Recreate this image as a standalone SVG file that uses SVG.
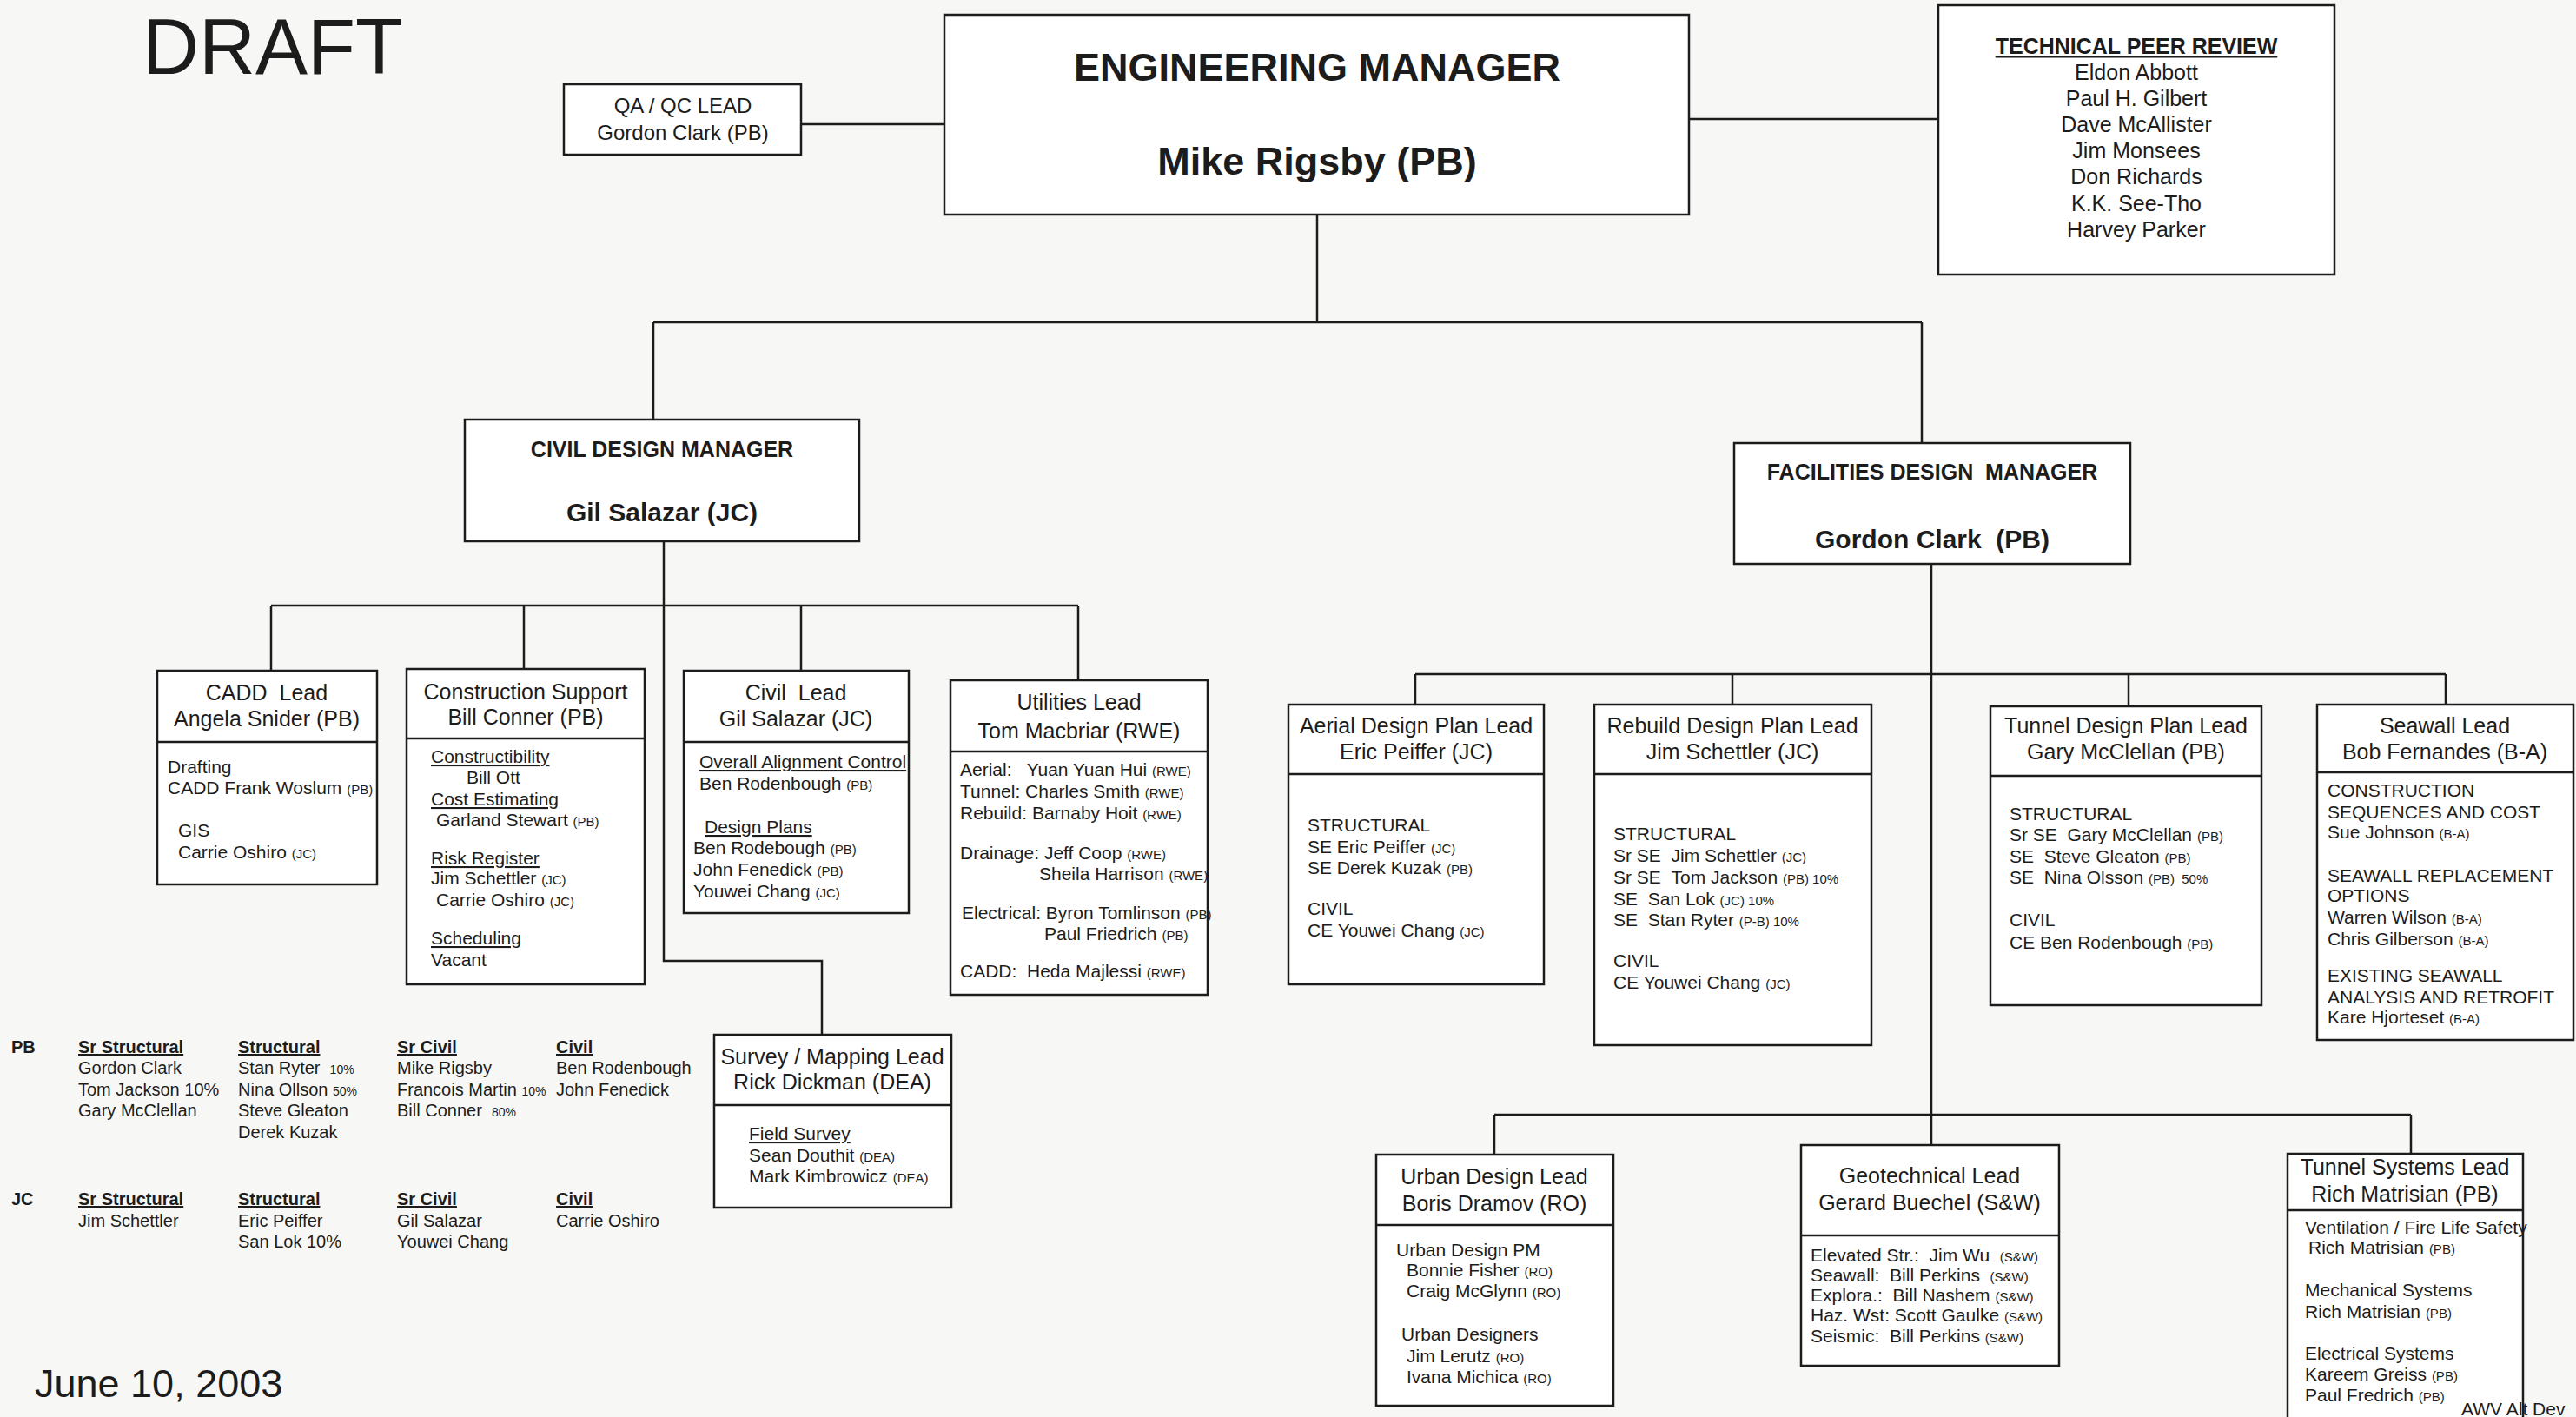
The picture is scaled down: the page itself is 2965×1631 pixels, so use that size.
<svg xmlns="http://www.w3.org/2000/svg" width="2965" height="1631" viewBox="0 0 2965 1631">
<style>
text{font-family:"Liberation Sans",Arial,Helvetica,sans-serif;fill:#1c1c1c}
.box{fill:#ffffff;stroke:#1c1c1c;stroke-width:2.5}
.div{stroke:#1c1c1c;stroke-width:2.5}
.ln{stroke:#1c1c1c;stroke-width:2.5;fill:none}
.t{font-size:25px;text-anchor:middle}
.b{font-size:21px}
.s{font-size:15px}
.u{text-decoration:underline}
.hb{font-weight:bold}
.lg{font-size:20px}
.ls{font-size:14px}
</style>
<rect x="0" y="0" width="2965" height="1631" fill="#f7f7f5"/>
<text x="164" y="85" style="font-size:90px">DRAFT</text>

<g id="connectors">
<path class="ln" d="M922 143H1087"/>
<path class="ln" d="M1944 137H2231"/>
<path class="ln" d="M1516 247V371M752 371H2212M752 371V483M2212 371V510"/>
<path class="ln" d="M764 623V1106H946V1191"/>
<path class="ln" d="M312 697H1241M312 697V772M603 697V770M922 697V772M1241 697V783"/>
<path class="ln" d="M2223 649V1318"/>
<path class="ln" d="M1629 776H2815M1629 776V811M1994 776V811M2450 776V813M2815 776V811"/>
<path class="ln" d="M1720 1283H2775M1720 1283V1329M2775 1283V1328"/>
</g>

<g id="qa-qc-lead">
<rect class="box" x="649" y="97" width="273" height="81"/>
<text class="t" x="786" y="130" style="font-size:24px">QA / QC LEAD</text>
<text class="t" x="786" y="161" style="font-size:24px">Gordon Clark (PB)</text>
</g>

<g id="engineering-manager">
<rect class="box" x="1087" y="17" width="857" height="230"/>
<text class="t hb" x="1516" y="93" style="font-size:45px">ENGINEERING MANAGER</text>
<text class="t hb" x="1516" y="201" style="font-size:45px">Mike Rigsby (PB)</text>
</g>

<g id="technical-peer-review">
<rect class="box" x="2231" y="6" width="456" height="310"/>
<text class="t hb u" x="2459" y="62">TECHNICAL PEER REVIEW</text>
<text class="t" x="2459" y="92">Eldon Abbott</text>
<text class="t" x="2459" y="122">Paul H. Gilbert</text>
<text class="t" x="2459" y="152">Dave McAllister</text>
<text class="t" x="2459" y="182">Jim Monsees</text>
<text class="t" x="2459" y="212">Don Richards</text>
<text class="t" x="2459" y="243">K.K. See-Tho</text>
<text class="t" x="2459" y="273">Harvey Parker</text>
</g>

<g id="civil-design-manager">
<rect class="box" x="535" y="483" width="454" height="140"/>
<text class="t hb" x="762" y="526">CIVIL DESIGN MANAGER</text>
<text class="t hb" x="762" y="600" style="font-size:30px">Gil Salazar (JC)</text>
</g>

<g id="facilities-design-manager">
<rect class="box" x="1996" y="510" width="456" height="139"/>
<text class="t hb" x="2224" y="552">FACILITIES DESIGN &#160;MANAGER</text>
<text class="t hb" x="2224" y="631" style="font-size:30px">Gordon Clark &#160;(PB)</text>
</g>

<g id="cadd-lead">
<rect class="box" x="181" y="772" width="253" height="246"/>
<line class="div" x1="181" y1="854" x2="434" y2="854"/>
<text class="t" x="307" y="806">CADD &#160;Lead</text>
<text class="t" x="307" y="836">Angela Snider (PB)</text>
<text class="b" x="193" y="890">Drafting</text>
<text class="b" x="193" y="914">CADD Frank Woslum <tspan class="s">(PB)</tspan></text>
<text class="b" x="205" y="963">GIS</text>
<text class="b" x="205" y="988">Carrie Oshiro <tspan class="s">(JC)</tspan></text>
</g>

<g id="construction-support">
<rect class="box" x="468" y="770" width="274" height="363"/>
<line class="div" x1="468" y1="850" x2="742" y2="850"/>
<text class="t" x="605" y="805">Construction Support</text>
<text class="t" x="605" y="834">Bill Conner (PB)</text>
<text class="b u" x="496" y="878">Constructibility</text>
<text class="b" x="537" y="902">Bill Ott</text>
<text class="b u" x="496" y="927">Cost Estimating</text>
<text class="b" x="502" y="951">Garland Stewart <tspan class="s">(PB)</tspan></text>
<text class="b u" x="496" y="995">Risk Register</text>
<text class="b" x="496" y="1018">Jim Schettler <tspan class="s">(JC)</tspan></text>
<text class="b" x="502" y="1043">Carrie Oshiro <tspan class="s">(JC)</tspan></text>
<text class="b u" x="496" y="1087">Scheduling</text>
<text class="b" x="496" y="1112">Vacant</text>
</g>

<g id="civil-lead">
<rect class="box" x="787" y="772" width="259" height="279"/>
<line class="div" x1="787" y1="854" x2="1046" y2="854"/>
<text class="t" x="916" y="806">Civil &#160;Lead</text>
<text class="t" x="916" y="836">Gil Salazar (JC)</text>
<text class="b u" x="805" y="884">Overall Alignment Control</text>
<text class="b" x="805" y="909">Ben Rodenbough <tspan class="s">(PB)</tspan></text>
<text class="b u" x="811" y="959">Design Plans</text>
<text class="b" x="798" y="983">Ben Rodebough <tspan class="s">(PB)</tspan></text>
<text class="b" x="798" y="1008">John Fenedick <tspan class="s">(PB)</tspan></text>
<text class="b" x="798" y="1033">Youwei Chang <tspan class="s">(JC)</tspan></text>
</g>

<g id="utilities-lead">
<rect class="box" x="1094" y="783" width="296" height="362"/>
<line class="div" x1="1094" y1="865" x2="1390" y2="865"/>
<text class="t" x="1242" y="817">Utilities Lead</text>
<text class="t" x="1242" y="850">Tom Macbriar (RWE)</text>
<text class="b" x="1105" y="893">Aerial: &#160; Yuan Yuan Hui <tspan class="s">(RWE)</tspan></text>
<text class="b" x="1105" y="918">Tunnel: Charles Smith <tspan class="s">(RWE)</tspan></text>
<text class="b" x="1105" y="943">Rebuild: Barnaby Hoit <tspan class="s">(RWE)</tspan></text>
<text class="b" x="1105" y="989">Drainage: Jeff Coop <tspan class="s">(RWE)</tspan></text>
<text class="b" x="1196" y="1013">Sheila Harrison <tspan class="s">(RWE)</tspan></text>
<text class="b" x="1107" y="1058">Electrical: Byron Tomlinson <tspan class="s">(PB)</tspan></text>
<text class="b" x="1202" y="1082">Paul Friedrich <tspan class="s">(PB)</tspan></text>
<text class="b" x="1105" y="1125">CADD: &#160;Heda Majlessi <tspan class="s">(RWE)</tspan></text>
</g>

<g id="survey-mapping-lead">
<rect class="box" x="822" y="1191" width="273" height="199"/>
<line class="div" x1="822" y1="1272" x2="1095" y2="1272"/>
<text class="t" x="958" y="1225">Survey / Mapping Lead</text>
<text class="t" x="958" y="1254">Rick Dickman (DEA)</text>
<text class="b u" x="862" y="1312">Field Survey</text>
<text class="b" x="862" y="1337">Sean Douthit <tspan class="s">(DEA)</tspan></text>
<text class="b" x="862" y="1361">Mark Kimbrowicz <tspan class="s">(DEA)</tspan></text>
</g>

<g id="aerial-design-plan-lead">
<rect class="box" x="1483" y="811" width="294" height="322"/>
<line class="div" x1="1483" y1="891" x2="1777" y2="891"/>
<text class="t" x="1630" y="844">Aerial Design Plan Lead</text>
<text class="t" x="1630" y="874">Eric Peiffer (JC)</text>
<text class="b" x="1505" y="957">STRUCTURAL</text>
<text class="b" x="1505" y="982">SE Eric Peiffer <tspan class="s">(JC)</tspan></text>
<text class="b" x="1505" y="1006">SE Derek Kuzak <tspan class="s">(PB)</tspan></text>
<text class="b" x="1505" y="1053">CIVIL</text>
<text class="b" x="1505" y="1078">CE Youwei Chang <tspan class="s">(JC)</tspan></text>
</g>

<g id="rebuild-design-plan-lead">
<rect class="box" x="1835" y="811" width="319" height="392"/>
<line class="div" x1="1835" y1="891" x2="2154" y2="891"/>
<text class="t" x="1994" y="844">Rebuild Design Plan Lead</text>
<text class="t" x="1994" y="874">Jim Schettler (JC)</text>
<text class="b" x="1857" y="967">STRUCTURAL</text>
<text class="b" x="1857" y="992">Sr SE &#160;Jim Schettler <tspan class="s">(JC)</tspan></text>
<text class="b" x="1857" y="1017">Sr SE &#160;Tom Jackson <tspan class="s">(PB) 10%</tspan></text>
<text class="b" x="1857" y="1042">SE &#160;San Lok <tspan class="s">(JC) 10%</tspan></text>
<text class="b" x="1857" y="1066">SE &#160;Stan Ryter <tspan class="s">(P-B) 10%</tspan></text>
<text class="b" x="1857" y="1113">CIVIL</text>
<text class="b" x="1857" y="1138">CE Youwei Chang <tspan class="s">(JC)</tspan></text>
</g>

<g id="tunnel-design-plan-lead">
<rect class="box" x="2291" y="813" width="312" height="344"/>
<line class="div" x1="2291" y1="893" x2="2603" y2="893"/>
<text class="t" x="2447" y="844">Tunnel Design Plan Lead</text>
<text class="t" x="2447" y="874">Gary McClellan (PB)</text>
<text class="b" x="2313" y="944">STRUCTURAL</text>
<text class="b" x="2313" y="968">Sr SE &#160;Gary McClellan <tspan class="s">(PB)</tspan></text>
<text class="b" x="2313" y="993">SE &#160;Steve Gleaton <tspan class="s">(PB)</tspan></text>
<text class="b" x="2313" y="1017">SE &#160;Nina Olsson <tspan class="s">(PB) &#160;50%</tspan></text>
<text class="b" x="2313" y="1066">CIVIL</text>
<text class="b" x="2313" y="1092">CE Ben Rodenbough <tspan class="s">(PB)</tspan></text>
</g>

<g id="seawall-lead">
<rect class="box" x="2667" y="811" width="295" height="386"/>
<line class="div" x1="2667" y1="889" x2="2962" y2="889"/>
<text class="t" x="2814" y="844">Seawall Lead</text>
<text class="t" x="2814" y="874">Bob Fernandes (B-A)</text>
<text class="b" x="2679" y="917">CONSTRUCTION</text>
<text class="b" x="2679" y="942">SEQUENCES AND COST</text>
<text class="b" x="2679" y="965">Sue Johnson <tspan class="s">(B-A)</tspan></text>
<text class="b" x="2679" y="1015">SEAWALL REPLACEMENT</text>
<text class="b" x="2679" y="1038">OPTIONS</text>
<text class="b" x="2679" y="1063">Warren Wilson <tspan class="s">(B-A)</tspan></text>
<text class="b" x="2679" y="1088">Chris Gilberson <tspan class="s">(B-A)</tspan></text>
<text class="b" x="2679" y="1130">EXISTING SEAWALL</text>
<text class="b" x="2679" y="1155">ANALYSIS AND RETROFIT</text>
<text class="b" x="2679" y="1178">Kare Hjorteset <tspan class="s">(B-A)</tspan></text>
</g>

<g id="urban-design-lead">
<rect class="box" x="1584" y="1329" width="273" height="289"/>
<line class="div" x1="1584" y1="1410" x2="1857" y2="1410"/>
<text class="t" x="1720" y="1363">Urban Design Lead</text>
<text class="t" x="1720" y="1394">Boris Dramov (RO)</text>
<text class="b" x="1607" y="1446">Urban Design PM</text>
<text class="b" x="1619" y="1469">Bonnie Fisher <tspan class="s">(RO)</tspan></text>
<text class="b" x="1619" y="1493">Craig McGlynn <tspan class="s">(RO)</tspan></text>
<text class="b" x="1613" y="1543">Urban Designers</text>
<text class="b" x="1619" y="1568">Jim Lerutz <tspan class="s">(RO)</tspan></text>
<text class="b" x="1619" y="1592">Ivana Michica <tspan class="s">(RO)</tspan></text>
</g>

<g id="geotechnical-lead">
<rect class="box" x="2073" y="1318" width="297" height="254"/>
<line class="div" x1="2073" y1="1422" x2="2370" y2="1422"/>
<text class="t" x="2221" y="1362">Geotechnical Lead</text>
<text class="t" x="2221" y="1393">Gerard Buechel (S&amp;W)</text>
<text class="b" x="2084" y="1452">Elevated Str.: &#160;Jim Wu &#160;<tspan class="s">(S&amp;W)</tspan></text>
<text class="b" x="2084" y="1475">Seawall: &#160;Bill Perkins &#160;<tspan class="s">(S&amp;W)</tspan></text>
<text class="b" x="2084" y="1498">Explora.: &#160;Bill Nashem <tspan class="s">(S&amp;W)</tspan></text>
<text class="b" x="2084" y="1521">Haz. Wst: Scott Gaulke <tspan class="s">(S&amp;W)</tspan></text>
<text class="b" x="2084" y="1545">Seismic: &#160;Bill Perkins <tspan class="s">(S&amp;W)</tspan></text>
</g>

<g id="tunnel-systems-lead">
<rect class="box" x="2633" y="1328" width="271" height="320"/>
<line class="div" x1="2633" y1="1393" x2="2904" y2="1393"/>
<text class="t" x="2768" y="1352">Tunnel Systems Lead</text>
<text class="t" x="2768" y="1383">Rich Matrisian (PB)</text>
<text class="b" x="2653" y="1420">Ventilation / Fire Life Safety</text>
<text class="b" x="2657" y="1443">Rich Matrisian <tspan class="s">(PB)</tspan></text>
<text class="b" x="2653" y="1492">Mechanical Systems</text>
<text class="b" x="2653" y="1517">Rich Matrisian <tspan class="s">(PB)</tspan></text>
<text class="b" x="2653" y="1565">Electrical Systems</text>
<text class="b" x="2653" y="1589">Kareem Greiss <tspan class="s">(PB)</tspan></text>
<text class="b" x="2653" y="1613">Paul Fredrich <tspan class="s">(PB)</tspan></text>
</g>
<text x="2833" y="1629" style="font-size:21px">AWV Alt Dev</text>

<g id="legend">
<text class="lg hb" x="13" y="1212">PB</text>
<text class="lg hb u" x="90" y="1212">Sr Structural</text>
<text class="lg" x="90" y="1236">Gordon Clark</text>
<text class="lg" x="90" y="1261">Tom Jackson 10%</text>
<text class="lg" x="90" y="1285">Gary McClellan</text>
<text class="lg hb u" x="274" y="1212">Structural</text>
<text class="lg" x="274" y="1236">Stan Ryter &#160;<tspan class="ls">10%</tspan></text>
<text class="lg" x="274" y="1261">Nina Ollson <tspan class="ls">50%</tspan></text>
<text class="lg" x="274" y="1285">Steve Gleaton</text>
<text class="lg" x="274" y="1310">Derek Kuzak</text>
<text class="lg hb u" x="457" y="1212">Sr Civil</text>
<text class="lg" x="457" y="1236">Mike Rigsby</text>
<text class="lg" x="457" y="1261">Francois Martin <tspan class="ls">10%</tspan></text>
<text class="lg" x="457" y="1285">Bill Conner &#160;<tspan class="ls">80%</tspan></text>
<text class="lg hb u" x="640" y="1212">Civil</text>
<text class="lg" x="640" y="1236">Ben Rodenbough</text>
<text class="lg" x="640" y="1261">John Fenedick</text>
<text class="lg hb" x="13" y="1387">JC</text>
<text class="lg hb u" x="90" y="1387">Sr Structural</text>
<text class="lg" x="90" y="1412">Jim Schettler</text>
<text class="lg hb u" x="274" y="1387">Structural</text>
<text class="lg" x="274" y="1412">Eric Peiffer</text>
<text class="lg" x="274" y="1436">San Lok 10%</text>
<text class="lg hb u" x="457" y="1387">Sr Civil</text>
<text class="lg" x="457" y="1412">Gil Salazar</text>
<text class="lg" x="457" y="1436">Youwei Chang</text>
<text class="lg hb u" x="640" y="1387">Civil</text>
<text class="lg" x="640" y="1412">Carrie Oshiro</text>
</g>

<text x="40" y="1608" style="font-size:45px">June 10, 2003</text>
</svg>
